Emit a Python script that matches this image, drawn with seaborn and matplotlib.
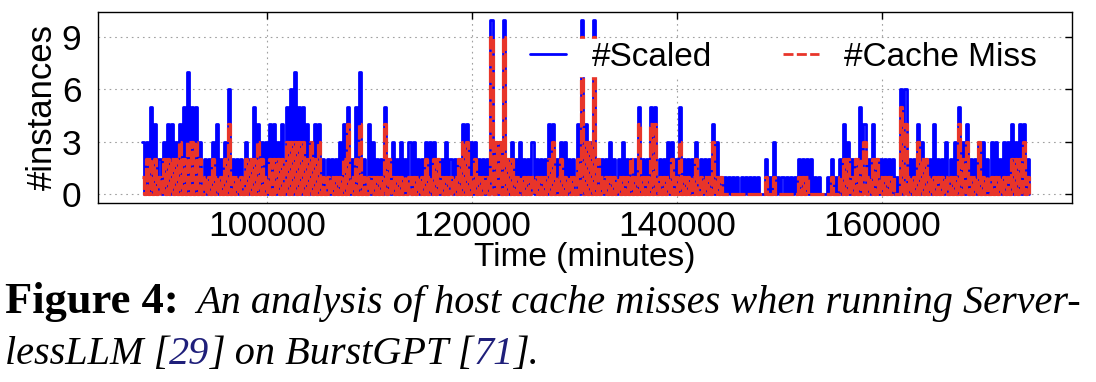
import matplotlib
matplotlib.use("Agg")
import matplotlib.pyplot as plt
from matplotlib.lines import Line2D
from matplotlib.transforms import IdentityTransform
import seaborn as sns
import numpy as np
import pandas as pd

# trace: one peak value per 400-minute bin, starting at t=87800
T_START = 87800
BIN = 400

scaled_peaks = [
    3, 3, 5, 4, 2, 3, 4, 4, 3, 4, 5, 7, 5, 5, 3, 2, 2, 3, 4, 2,
    3, 6, 2, 2, 2, 3, 2, 5, 4, 3, 3, 4, 4, 3, 4, 5, 6, 7, 5, 5,
    4, 3, 4, 4, 2, 2, 2, 2, 3, 4, 5, 2, 5, 7, 2, 4, 3, 2, 2, 5,
    2, 3, 2, 3, 2, 3, 3, 2, 2, 3, 3, 3, 2, 2, 3, 2, 2, 2, 4, 4,
    3, 3, 2, 2, 2, 10, 3, 3, 10, 2, 3, 2, 3, 2, 2, 3, 2, 2, 2, 4,
    4, 2, 3, 3, 2, 2, 4, 10, 4, 3, 10, 2, 2, 2, 3, 2, 2, 3, 2, 2,
    2, 5, 2, 2, 5, 5, 2, 2, 3, 3, 2, 5, 2, 2, 2, 3, 2, 2, 2, 4,
    3, 1, 1, 1, 1, 1, 1, 1, 1, 1, 1, 0, 2, 1, 3, 1, 1, 1, 1, 1,
    2, 2, 2, 2, 1, 1, 0, 1, 2, 1, 2, 4, 3, 2, 2, 5, 4, 2, 4, 2,
    2, 2, 2, 2, 1, 6, 6, 2, 2, 4, 3, 2, 2, 4, 2, 2, 3, 2, 3, 5,
    3, 4, 2, 2, 3, 3, 2, 3, 3, 2, 3, 3, 4, 3, 4, 4, 2,
]
miss_peaks = [
    1, 2, 2, 2, 1, 2, 2, 2, 2, 3, 2, 3, 3, 3, 2, 1, 1, 2, 1, 1,
    2, 4, 1, 1, 1, 2, 2, 2, 3, 2, 1, 2, 2, 2, 2, 3, 3, 3, 3, 3,
    2, 3, 2, 3, 1, 1, 1, 1, 1, 2, 4, 1, 2, 4, 1, 1, 1, 1, 1, 4,
    2, 1, 1, 1, 1, 1, 1, 1, 1, 2, 1, 2, 2, 1, 1, 1, 1, 2, 3, 3,
    1, 2, 1, 1, 1, 9, 3, 3, 9, 2, 2, 1, 1, 1, 1, 1, 1, 1, 1, 2,
    3, 1, 2, 1, 1, 1, 2, 9, 3, 3, 9, 2, 1, 1, 1, 1, 1, 1, 1, 2,
    1, 4, 1, 1, 4, 4, 1, 1, 1, 2, 1, 3, 1, 1, 1, 2, 1, 1, 1, 3,
    1, 1, 0, 0, 0, 0, 0, 0, 0, 0, 0, 0, 1, 0, 1, 0, 0, 0, 0, 0,
    1, 1, 1, 0, 0, 0, 0, 0, 1, 0, 1, 2, 2, 1, 2, 2, 3, 1, 2, 2,
    1, 1, 1, 1, 0, 5, 4, 1, 1, 3, 2, 2, 1, 1, 1, 1, 1, 1, 1, 4,
    2, 3, 1, 1, 3, 1, 1, 1, 1, 1, 1, 1, 2, 2, 2, 3, 1,
]

x_ticks = [100000, 120000, 140000, 160000]
y_ticks = [0, 3, 6, 9]

BLUE = "#0000ff"
RED = "#e8352a"
NAVY = "#1f1f7a"

# within each bin the per-minute trace falls back to 0, so every bin is a peak then a floor
bins = T_START + BIN * np.arange(len(scaled_peaks))
t = np.column_stack([bins, bins + BIN // 2]).ravel()
floor = np.zeros(len(scaled_peaks), dtype=int)
df = pd.DataFrame({
    "time": t,
    "scaled": np.column_stack([scaled_peaks, floor]).ravel(),
    "miss": np.column_stack([miss_peaks, floor]).ravel(),
})

sns.set_style("white")
plt.rcParams["font.family"] = ["Liberation Sans", "DejaVu Sans"]
plt.rcParams["text.color"] = "black"
plt.rcParams["axes.labelcolor"] = "black"

fig = plt.figure(figsize=(10.96, 3.82), dpi=100)
ax = fig.add_axes([98 / 1096, 1 - 203 / 382, 974 / 1096, 191 / 382])

ax.grid(True, color="#a0a0a0", lw=0.8, ls=(0, (1.5, 3.5)))
ax.set_axisbelow(True)

sns.lineplot(data=df, x="time", y="scaled", ax=ax, color=BLUE, lw=2,
             drawstyle="steps-post", estimator=None, sort=False, legend=False)
# the per-minute trace is so dense that the dashes nearly close up
sns.lineplot(data=df, x="time", y="miss", ax=ax, color=RED, lw=2.3,
             ls=(0, (4.5, 0.7)), drawstyle="steps-post", estimator=None,
             sort=False, legend=False)

ax.set_xlim(83500, 178550)
ax.set_ylim(-0.52, 10.45)
ax.set_xticks(x_ticks)
ax.set_yticks(y_ticks)
ax.set_xticklabels([str(v) for v in x_ticks])
ax.tick_params(direction="in", length=5, width=1, top=True, right=True,
               labelsize=25.5, colors="black")
ax.tick_params(axis="x", pad=5)
ax.tick_params(axis="y", pad=12)
for s in ax.spines.values():
    s.set_color("black")
    s.set_linewidth(1)

ax.set_xlabel("Time (minutes)", fontsize=24, labelpad=-1)
ax.set_ylabel("#instances", fontsize=25, labelpad=2)

handles = [Line2D([], [], color=BLUE, lw=2),
           Line2D([], [], color=RED, lw=2, ls=(0, (3.6, 1.2)))]
ax.legend(handles, ["#Scaled", "#Cache Miss"], ncol=2, loc="upper left",
          bbox_to_anchor=(0.4228, 0.948), fontsize=24, frameon=True,
          fancybox=False, framealpha=1, facecolor="white", edgecolor="white",
          borderpad=0.1, handlelength=1.1, handletextpad=0.75, columnspacing=2.13)

# caption, built from pieces so the citation numbers can be coloured
fig.canvas.draw()
renderer = fig.canvas.get_renderer()


def piece(x, y, s, size=29, **kw):
    txt = fig.text(x, y, s, transform=IdentityTransform(), va="baseline",
                   family=["Liberation Serif", "DejaVu Serif"], fontsize=size,
                   color=kw.pop("color", "black"), **kw)
    return txt.get_window_extent(renderer).x1


x = piece(5, 69, "Figure 4:", size=32, weight="bold")
piece(x + 17, 69, "An analysis of host cache misses when running Server-", style="italic")

x = piece(5, 18, "lessLLM [", style="italic")
x = piece(x, 18, "29", style="italic", color=NAVY)
x = piece(x, 18, "] on BurstGPT [", style="italic")
x = piece(x, 18, "71", style="italic", color=NAVY)
piece(x, 18, "].", style="italic")

fig.savefig("out.png", dpi=100)
